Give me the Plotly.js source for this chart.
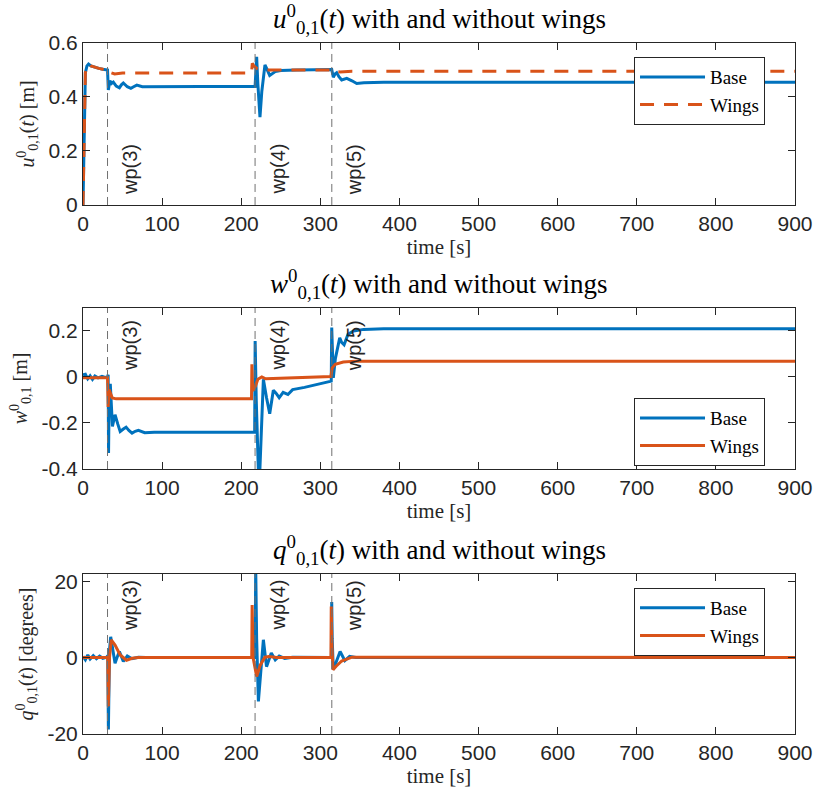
<!DOCTYPE html>
<html><head><meta charset="utf-8">
<script src="https://cdn.plot.ly/plotly-3.0.1.min.js"></script>
<style>html,body{margin:0;padding:0;background:#fff}#plot{width:815px;height:800px}</style>
</head><body><div id="plot"></div>
<script>
// ---- data ----
const tU = [0,1,2,3,5,7,10,15,20,25,30,31,32,34,36,38.3,42,46,48.5,51,56,60.5,64,68,75,100,150,217.5,218.5,219.5,221,223.7,226,230,233,236,243,250,270,300,314.4,316.4,318.5,320.7,323.5,327,333.4,340,346,355,380,450,600,900];
const uBase = [0,0.2,0.42,0.49,0.515,0.522,0.515,0.51,0.506,0.503,0.5,0.5,0.426,0.46,0.45,0.455,0.44,0.434,0.445,0.452,0.438,0.432,0.438,0.444,0.438,0.439,0.439,0.439,0.50,0.549,0.45,0.325,0.42,0.519,0.50,0.48,0.494,0.498,0.50,0.501,0.502,0.473,0.485,0.49,0.475,0.463,0.469,0.46,0.45,0.453,0.455,0.455,0.455,0.455];
const tUw = [0,1,2,3,5,7,10,15,20,25,30,31,32,35,40,45,50,100,213,214,216,220,225,260,313.5,315,318,325,340,500,900];
const uWings = [0,0.2,0.42,0.49,0.515,0.522,0.515,0.51,0.506,0.503,0.5,0.5,0.503,0.49,0.485,0.487,0.489,0.489,0.489,0.525,0.515,0.505,0.50,0.50,0.50,0.503,0.495,0.493,0.495,0.495,0.495];

const tW = [0,3,6,9,12,15,19,24,28,31,31.8,32.3,33.2,34.5,37.2,40.5,44,47,51,54.5,58,62,66,70,78,90,150,217,217.6,219,222.5,225,228,232,236,240.6,244,248,253,259,265,280,300,313.8,314.4,316.4,319,322,324.5,327,330,335,342,355,380,500,900];
const wBase = [0.01,0.012,-0.008,0.005,-0.01,0.004,-0.004,0.003,-0.002,0.0,0.01,-0.33,-0.05,-0.03,-0.215,-0.164,-0.205,-0.237,-0.226,-0.218,-0.232,-0.244,-0.236,-0.232,-0.242,-0.24,-0.24,-0.24,0.156,-0.1,-0.5,-0.25,-0.01,-0.09,-0.16,-0.058,-0.07,-0.09,-0.067,-0.076,-0.055,-0.045,-0.03,-0.018,0.215,-0.004,0.08,0.134,0.17,0.15,0.14,0.186,0.2,0.207,0.21,0.21,0.21];
const tWw = [0,31,31.8,33,37,42,100,213,213.5,214.5,218,221,226,231,240,280,313.4,315,318.8,329,345,500,900];
const wWings = [-0.003,-0.003,-0.13,-0.055,-0.091,-0.095,-0.095,-0.095,0.055,-0.06,-0.04,-0.01,0.0,-0.008,-0.006,-0.002,0.002,0.04,0.055,0.065,0.069,0.069,0.069];

const tQ = [0,3,6,9,13,17,21,25,30,31.3,32.1,33.5,35,37.5,40.5,43,46,51,56,62,70,80,217.6,218.3,219.5,221.7,225,228,232,238,243,248,255,265,314,314.4,315,316.4,320,325,331,337,345,900];
const qBase = [0.3,-0.6,0.7,-0.4,0.5,-0.3,0.4,-0.2,0.1,0.5,-19,2,5.5,2,-1.5,0,1.6,-1,0.4,-0.3,0.1,0,0,24,5,-11.6,-3,4.7,-2.4,1.2,-0.6,0.4,-0.2,0.1,0,14.7,5,-3.2,-1,1.6,-0.8,0.3,0,0];
const tQw = [0,31.3,32,33.5,35.7,40.5,47,55,62,70,213.3,213.8,215,219.5,224,230,235,245,313.4,313.8,314.5,316,320,327,340,900];
const qWings = [0,0,-12.9,0,4.7,3.3,0.7,-0.7,-0.2,0,0,13.9,0,-5,-2,0.1,0.3,0,0,13.5,4,-3.2,-2.3,-0.9,0.1,0];

const wpTimes = [31, 217.5, 314.5];
const wpLabels = ['wp(3)','wp(4)','wp(5)'];

const xTicks = [0,100,200,300,400,500,600,700,800,900];
const uTicks = [0,0.2,0.4,0.6], uTickText = ['0','0.2','0.4','0.6'];
const wTicks = [-0.4,-0.2,0,0.2], wTickText = ['-0.4','-0.2','0','0.2'];
const qTicks = [-20,0,20], qTickText = ['-20','0','20'];

const titles = ['<i>u</i><sup>0</sup><sub>0,1</sub>(<i>t</i>) with and without wings',
                '<i>w</i><sup>0</sup><sub>0,1</sub>(<i>t</i>) with and without wings',
                '<i>q</i><sup>0</sup><sub>0,1</sub>(<i>t</i>) with and without wings'];
const yTitles = ['<i>u</i><sup>0</sup><sub>0,1</sub>(<i>t</i>) [m]',
                 '<i>w</i><sup>0</sup><sub>0,1</sub> [m]',
                 '<i>q</i><sup>0</sup><sub>0,1</sub>(<i>t</i>) [degrees]'];

// ---- styles ----
const BLUE = '#0072BD', ORANGE = '#D95319', AX = '#262626';
const SERIF = 'Liberation Serif, serif', SANS = 'Liberation Sans, Arial, sans-serif';

const traces = [
  {x: tU, y: uBase, name: 'Base', xaxis: 'x', yaxis: 'y', legend: 'legend', line: {color: BLUE, width: 3}},
  {x: tUw, y: uWings, name: 'Wings', xaxis: 'x', yaxis: 'y', legend: 'legend', line: {color: ORANGE, width: 3, dash: '14px,10px'}},
  {x: tW, y: wBase, name: 'Base', xaxis: 'x2', yaxis: 'y2', legend: 'legend2', line: {color: BLUE, width: 3}},
  {x: tWw, y: wWings, name: 'Wings', xaxis: 'x2', yaxis: 'y2', legend: 'legend2', line: {color: ORANGE, width: 3}},
  {x: tQ, y: qBase, name: 'Base', xaxis: 'x3', yaxis: 'y3', legend: 'legend3', line: {color: BLUE, width: 3}},
  {x: tQw, y: qWings, name: 'Wings', xaxis: 'x3', yaxis: 'y3', legend: 'legend3', line: {color: ORANGE, width: 3}}
].map(t => Object.assign({type: 'scatter', mode: 'lines', hoverinfo: 'skip'}, t));

const domains = [[0.7656, 1], [0.3835, 0.6165], [0, 0.2316]];
const yRanges = [[0, 0.6], [-0.4, 0.3], [-20.2, 22.1]];
const yTickSets = [[uTicks, uTickText], [wTicks, wTickText], [qTicks, qTickText]];

function xAxis(anchor) {
  return {domain: [0, 1], anchor: anchor, range: [0, 900], tickvals: xTicks,
    ticks: 'inside', ticklen: 7, tickcolor: AX, showline: true, linecolor: AX, linewidth: 1,
    mirror: 'ticks', showgrid: false, zeroline: false,
    tickfont: {family: SANS, size: 21, color: AX},
    title: {text: 'time [s]', font: {family: SERIF, size: 21, color: AX}, standoff: 5}};
}
function yAxis(i, anchor) {
  return {domain: domains[i], anchor: anchor, range: yRanges[i],
    tickvals: yTickSets[i][0], ticktext: yTickSets[i][1],
    ticks: 'inside', ticklen: 7, tickcolor: AX, showline: true, linecolor: AX, linewidth: 1,
    mirror: 'ticks', showgrid: false, zeroline: false,
    tickfont: {family: SANS, size: 21, color: AX},
    title: {text: yTitles[i], font: {family: SERIF, size: 20, color: AX}, standoff: 8}};
}

const shapes = [], annotations = [];
const yrefs = ['y', 'y2', 'y3'], xrefs = ['x', 'x2', 'x3'];
for (let p = 0; p < 3; p++) {
  wpTimes.forEach((t, k) => {
    shapes.push({type: 'line', xref: xrefs[p], yref: yrefs[p] + ' domain', x0: t, x1: t, y0: 0, y1: 1,
      line: {color: '#707070', width: 1, dash: '8px,5px'}});
    const top = p > 0;
    annotations.push({xref: xrefs[p], yref: yrefs[p] + ' domain', x: t, y: top ? 1 : 0,
      xanchor: 'left', yanchor: top ? 'top' : 'bottom', xshift: 10, yshift: top ? (p === 1 ? -10 : -4) : 8,
      text: wpLabels[k], textangle: -90, showarrow: false, font: {family: SANS, size: 20, color: AX}});
  });
  annotations.push({xref: 'paper', yref: 'paper', x: 0.5, y: domains[p][1], xanchor: 'center', yanchor: 'bottom',
    yshift: 3, text: titles[p], showarrow: false, font: {family: SERIF, size: 27, color: '#000'}});
}

function legendAt(y) {
  return {x: 0.7739, y: y, xanchor: 'left', yanchor: 'top', bgcolor: '#fff', bordercolor: AX, borderwidth: 1,
    font: {family: SERIF, size: 19, color: '#000'}, itemwidth: 65, tracegroupgap: 0};
}

const layout = {
  width: 815, height: 800, paper_bgcolor: '#fff', plot_bgcolor: '#fff',
  margin: {l: 83, r: 20, t: 43, b: 66},
  showlegend: true,
  xaxis: xAxis('y'), xaxis2: xAxis('y2'), xaxis3: xAxis('y3'),
  yaxis: yAxis(0, 'x'), yaxis2: yAxis(1, 'x2'), yaxis3: yAxis(2, 'x3'),
  legend: legendAt(0.9797), legend2: legendAt(0.4862), legend3: legendAt(0.2113),
  shapes: shapes, annotations: annotations
};

Plotly.newPlot('plot', traces, layout, {staticPlot: true, displayModeBar: false});
</script></body></html>
